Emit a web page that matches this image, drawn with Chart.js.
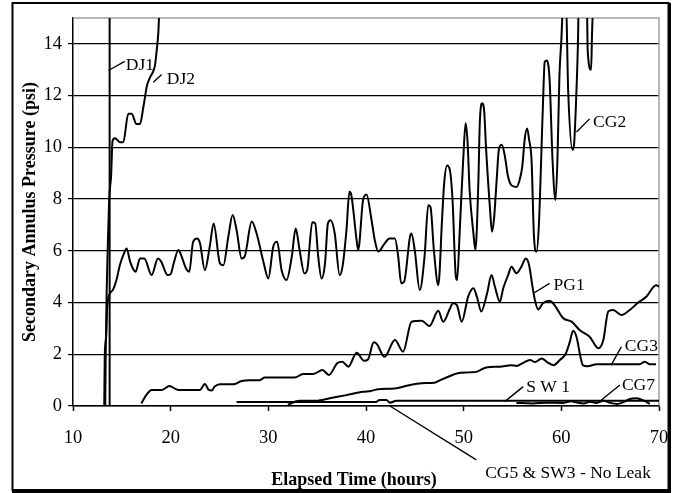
<!DOCTYPE html>
<html><head><meta charset="utf-8">
<script src="https://cdn.jsdelivr.net/npm/chart.js@4.4.0/dist/chart.umd.min.js"></script>
<style>html,body{margin:0;padding:0;background:#fff;}canvas{display:block;}</style>
</head><body>
<canvas id="c" width="677" height="493"></canvas>
<script>
// ---- tick labels ----
const X_TICKS = [10, 20, 30, 40, 50, 60, 70];
const Y_TICKS = [0, 2, 4, 6, 8, 10, 12, 14];

// ---- series (elapsed hours / psi) ----
const DJ1_T = [13.75, 13.75];
const DJ1_V = [0, 16];

const DJ2_T = [13.3, 13.35, 13.45, 13.55, 13.7, 13.9, 14.05, 14.3, 14.8, 15.15, 15.66, 16.0, 16.5, 16.86, 17.2, 17.37, 17.54, 17.88, 18.39, 18.57, 18.73, 18.8, 18.85];
const DJ2_V = [0, 2.0, 4.5, 6.0, 7.95, 8.9, 10.25, 10.35, 10.2, 10.2, 11.3, 11.3, 10.9, 10.9, 11.55, 11.94, 12.33, 12.7, 13.16, 13.75, 14.4, 15.0, 16.0];

const CG2_T = [13.2, 13.25, 13.4, 13.5, 13.8, 14.1, 14.47, 14.8, 15.15, 15.5, 15.83, 16.16, 16.4, 16.86, 17.3, 18.05, 18.7, 19.0, 19.7, 20.0, 20.3, 20.8, 21.0, 21.6, 21.9, 22.3, 22.7, 23.0, 23.5, 24.0, 24.4, 25.05, 25.4, 25.9, 26.35, 26.75, 27.27, 27.6, 28.3, 28.8, 29.5, 30.0, 30.5, 30.9, 31.36, 31.87, 32.4, 32.8, 33.2, 33.7, 34.0, 34.5, 34.8, 35.1, 35.45, 35.8, 36.1, 36.37, 36.8, 37.3, 37.6, 38.0, 38.3, 38.5, 39.04, 39.2, 39.7, 40.05, 40.57, 40.9, 41.25, 41.9, 42.4, 42.96, 43.3, 43.6, 43.9, 44.5, 44.65, 45.0, 45.5, 46.0, 46.37, 46.6, 46.95, 47.4, 47.8, 48.0, 48.3, 48.6, 48.86, 49.2, 49.33, 49.6, 49.95, 50.2, 50.4, 50.6, 51.0, 51.2, 51.5, 51.65, 51.9, 52.1, 52.3, 52.7, 52.9, 53.1, 53.4, 53.6, 53.9, 54.2, 54.55, 54.9, 55.4, 55.7, 56.0, 56.26, 56.5, 56.7, 56.95, 57.2, 57.46, 57.7, 58.1, 58.3, 58.5, 58.8, 59.1, 59.4, 59.6, 59.8, 60.0, 60.25, 60.45, 60.7, 61.15, 61.3, 61.5, 61.7, 61.8, 62.6, 62.7, 63.05, 63.15, 63.3];
const CG2_V = [0, 1.9, 2.68, 3.83, 4.36, 4.5, 4.9, 5.45, 5.83, 6.09, 5.6, 5.3, 5.19, 5.7, 5.7, 5.06, 5.7, 5.6, 5.06, 5.1, 5.5, 6.03, 5.9, 5.3, 5.19, 6.35, 6.48, 6.3, 5.25, 6.16, 7.06, 5.51, 5.44, 6.54, 7.38, 6.8, 5.7, 5.8, 7.13, 6.67, 5.57, 4.93, 6.16, 6.35, 5.25, 4.87, 5.77, 6.86, 6.03, 5.12, 5.3, 7.1, 7.06, 5.8, 4.93, 5.5, 7.06, 7.18, 6.67, 5.06, 5.4, 6.8, 8.28, 8.15, 6.41, 6.03, 7.96, 8.18, 7.18, 6.41, 5.97, 6.28, 6.48, 6.48, 5.77, 4.74, 4.8, 6.54, 6.67, 6.0, 4.48, 5.8, 7.76, 7.7, 6.03, 4.67, 7.31, 8.6, 9.3, 9.1, 7.96, 5.0, 4.87, 6.8, 9.5, 10.93, 10.2, 8.4, 6.67, 6.03, 8.6, 10.93, 11.7, 11.4, 9.9, 7.6, 6.74, 7.2, 8.86, 9.9, 10.1, 9.7, 8.86, 8.53, 8.47, 8.7, 9.25, 10.35, 10.73, 10.3, 9.5, 6.54, 5.97, 7.0, 11.44, 13.3, 13.36, 12.6, 9.5, 7.96, 9.5, 12.7, 14.15, 16, 16, 12.2, 9.9, 10.1, 11.7, 14.0, 16, 16, 13.75, 13.0, 14.5, 16];

const PG1_T = [17.0, 17.5, 18.05, 19.1, 19.86, 20.78, 23.0, 23.5, 23.9, 24.2, 24.5, 25.05, 26.4, 27.27, 28.1, 29.1, 29.65, 32.7, 33.57, 34.6, 35.55, 36.2, 37.05, 37.56, 38.2, 39.04, 39.8, 40.2, 40.8, 41.1, 41.9, 42.96, 43.8, 44.66, 45.7, 46.5, 47.4, 47.9, 48.6, 48.9, 49.3, 49.8, 50.46, 51.0, 51.4, 51.8, 52.4, 52.85, 53.2, 53.7, 54.05, 54.55, 54.9, 55.4, 55.9, 56.37, 56.7, 57.05, 57.3, 57.63, 58.1, 58.8, 59.3, 60.2, 61.05, 61.9, 62.9, 63.8, 64.3, 64.8, 65.3, 66.16, 67.0, 67.85, 68.7, 69.7, 70.1];
const PG1_V = [0.1, 0.42, 0.62, 0.62, 0.77, 0.62, 0.62, 0.85, 0.62, 0.6, 0.75, 0.84, 0.84, 0.97, 1.0, 1.0, 1.1, 1.1, 1.24, 1.24, 1.39, 1.2, 1.65, 1.71, 1.52, 2.06, 1.75, 1.8, 2.46, 2.4, 1.9, 2.55, 2.1, 3.26, 3.3, 3.09, 3.68, 3.26, 3.77, 3.97, 3.9, 3.26, 4.23, 4.55, 4.16, 3.65, 4.36, 5.06, 4.61, 4.03, 4.55, 5.06, 5.38, 5.13, 5.38, 5.7, 5.44, 4.61, 4.09, 3.73, 3.97, 4.07, 3.9, 3.39, 3.26, 2.93, 2.68, 2.23, 2.55, 3.65, 3.71, 3.52, 3.71, 3.99, 4.22, 4.67, 4.6];

const CG3_T = [32.0, 33.2, 34.9, 36.3, 38.0, 39.7, 40.5, 41.25, 42.96, 44.15, 45.7, 47.0, 47.6, 48.6, 49.3, 50.6, 51.3, 52.3, 53.7, 54.9, 55.4, 56.1, 56.8, 57.3, 58.0, 58.5, 59.2, 59.85, 60.46, 60.87, 61.2, 61.55, 61.96, 62.2, 62.7, 63.6, 68.0, 68.55, 69.06, 69.7];
const CG3_V = [0.05, 0.2, 0.2, 0.3, 0.42, 0.55, 0.58, 0.65, 0.68, 0.78, 0.88, 0.9, 1.0, 1.16, 1.26, 1.3, 1.32, 1.49, 1.52, 1.58, 1.55, 1.67, 1.78, 1.7, 1.84, 1.71, 1.58, 1.78, 2.03, 2.48, 2.91, 2.68, 1.9, 1.58, 1.54, 1.61, 1.61, 1.71, 1.61, 1.61];

const SW1_T = [26.75, 41.0, 41.4, 42.1, 42.45, 43.1, 70.0];
const SW1_V = [0.15, 0.15, 0.23, 0.23, 0.13, 0.2, 0.2];

const CG7_T = [55.4, 57.0, 58.5, 60.2, 61.0, 61.55, 62.3, 62.9, 63.6, 64.3, 65.0, 65.7, 66.3, 67.0, 67.7, 68.4, 69.06];
const CG7_V = [0.12, 0.1, 0.13, 0.12, 0.18, 0.14, 0.1, 0.16, 0.12, 0.2, 0.12, 0.08, 0.14, 0.27, 0.3, 0.22, 0.08];

const CG5_T = [26.75, 70.0];
const CG5_V = [0, 0];
const SW3_T = [26.75, 70.0];
const SW3_V = [0, 0];

// ---- series labels and their leader lines (data coordinates) ----
const LABEL_TEXT = ['DJ1', 'DJ2', 'CG2', 'PG1', 'CG3', 'S W 1', 'CG7', 'CG5 & SW3 - No Leak'];
const LABEL_T = [15.4, 19.6, 63.25, 59.2, 66.5, 56.4, 66.2, 52.2];
const LABEL_V = [13.17, 12.63, 10.95, 4.67, 2.29, 0.7, 0.81, -2.6];
const LEADER_T0 = [13.62, 18.22, 61.55, 57.1, 65.1, 54.2, 64.1, 42.45];
const LEADER_V0 = [12.97, 12.52, 10.59, 4.35, 1.58, 0.17, 0.23, 0];
const LEADER_T1 = [15.3, 19.08, 62.9, 58.8, 66.15, 56.1, 66.0, 51.3];
const LEADER_V1 = [13.32, 12.82, 11.1, 4.74, 2.29, 0.75, 0.81, -2.08];

const FONT = '"Liberation Serif", "Times New Roman", serif';

function pts(T, V) { return T.map((t, i) => ({x: t, y: V[i]})); }
function series(label, T, V, extra) {
  return Object.assign({
    label, data: pts(T, V), borderColor: '#000', borderWidth: 2,
    pointRadius: 0, fill: false, tension: 0, cubicInterpolationMode: 'monotone'
  }, extra || {});
}

const datasets = [
  series('CG5', CG5_T, CG5_V),
  series('SW3', SW3_T, SW3_V),
  series('SW1', SW1_T, SW1_V),
  series('CG7', CG7_T, CG7_V),
  series('CG3', CG3_T, CG3_V),
  series('PG1', PG1_T, PG1_V),
  series('CG2', CG2_T, CG2_V),
  series('DJ2', DJ2_T, DJ2_V),
  series('DJ1', DJ1_T, DJ1_V, {cubicInterpolationMode: 'default'})
];
LABEL_TEXT.forEach((name, i) => {
  datasets.push({
    label: 'leader ' + name,
    data: [{x: LEADER_T0[i], y: LEADER_V0[i]}, {x: LEADER_T1[i], y: LEADER_V1[i]}],
    borderColor: '#000', borderWidth: 1.4, pointRadius: 0, fill: false, tension: 0,
    clip: false
  });
});

const decor = {
  id: 'decor',
  beforeDraw(chart) {
    const c = chart.ctx;
    c.save(); c.fillStyle = '#fff'; c.fillRect(0, 0, chart.width, chart.height); c.restore();
  },
  beforeDatasetsDraw(chart) {
    const c = chart.ctx, a = chart.chartArea;
    c.save();
    c.strokeStyle = '#a0a0a0'; c.lineWidth = 1.5;
    c.beginPath();
    c.moveTo(a.left, a.top); c.lineTo(a.right, a.top); c.lineTo(a.right, a.bottom);
    c.stroke();
    c.restore();
  },
  afterDatasetsDraw(chart) {
    const c = chart.ctx, xs = chart.scales.x, ys = chart.scales.y;
    c.save();
    c.fillStyle = '#000';
    c.font = '17.5px ' + FONT;
    c.textAlign = 'left'; c.textBaseline = 'middle';
    LABEL_TEXT.forEach((txt, i) => {
      c.fillText(txt, xs.getPixelForValue(LABEL_T[i]), ys.getPixelForValue(LABEL_V[i]));
    });
    c.restore();
  },
  afterDraw(chart) {
    const c = chart.ctx, a = chart.chartArea;
    c.save();
    c.fillStyle = '#000';
    c.font = 'bold 18px ' + FONT;
    c.textAlign = 'center'; c.textBaseline = 'middle';
    c.fillText('Elapsed Time (hours)', (a.left + a.right) / 2 - 12, 480);
    c.translate(30, (a.top + a.bottom) / 2);
    c.rotate(-Math.PI / 2);
    c.fillText('Secondary Annulus Pressure (psi)', 0, 0);
    c.restore();
    // outer frame
    c.save();
    c.strokeStyle = '#000';
    c.lineWidth = 2;
    c.strokeRect(12.5, 3, 656, 487);
    c.lineWidth = 3;
    c.beginPath(); c.moveTo(669.5, 3); c.lineTo(669.5, 491.5); c.lineTo(12, 491.5); c.stroke();
    c.restore();
  }
};

new Chart(document.getElementById('c'), {
  type: 'line',
  data: {datasets},
  options: {
    responsive: false, animation: false, devicePixelRatio: 1,
    layout: {padding: {left: 0, top: 18, right: 18, bottom: 0}},
    plugins: {legend: {display: false}, tooltip: {enabled: false}, title: {display: false}},
    scales: {
      x: {
        type: 'linear', min: 10, max: 70,
        afterBuildTicks: s => { s.ticks = X_TICKS.map(v => ({value: v})); },
        afterFit: s => { s.height = 87; s.paddingLeft = 0; s.paddingRight = 0; },
        grid: {drawOnChartArea: false, drawTicks: true, tickLength: 5, tickColor: '#000', color: '#000', tickWidth: 1.5},
        border: {display: true, color: '#000', width: 1.5},
        ticks: {color: '#000', font: {family: FONT, size: 18.5}, padding: 16, maxRotation: 0, autoSkip: false}
      },
      y: {
        type: 'linear', min: 0, max: 15,
        afterBuildTicks: s => { s.ticks = Y_TICKS.map(v => ({value: v})); },
        afterFit: s => { s.width = 73; s.paddingTop = 0; s.paddingBottom = 0; },
        grid: {drawOnChartArea: true, drawTicks: true, tickLength: 5, color: '#000', tickColor: '#000', lineWidth: 1.2},
        border: {display: true, color: '#000', width: 1.5},
        ticks: {color: '#000', font: {family: FONT, size: 18.5}, padding: 6}
      }
    }
  },
  plugins: [decor]
});
</script>
</body></html>
